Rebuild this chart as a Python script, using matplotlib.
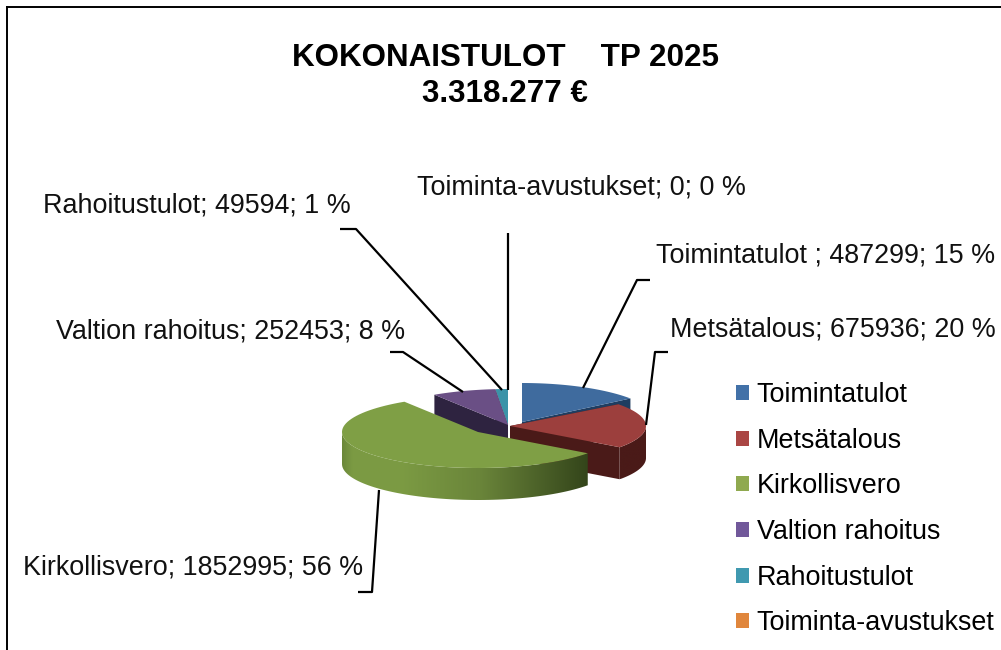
import numpy as np
import matplotlib
matplotlib.use('Agg')
import matplotlib.pyplot as plt
from matplotlib.patches import Patch, Polygon
from matplotlib.colors import to_rgb

plt.rcParams['font.family'] = ['Liberation Sans', 'DejaVu Sans']

# Data
names = ['Toimintatulot', 'Metsätalous', 'Kirkollisvero', 'Valtion rahoitus',
         'Rahoitustulot', 'Toiminta-avustukset']
label_names = ['Toimintatulot ', 'Metsätalous', 'Kirkollisvero', 'Valtion rahoitus',
               'Rahoitustulot', 'Toiminta-avustukset']
values = [487299, 675936, 1852995, 252453, 49594, 0]

# Styles, one per slice
top_colors = ['#3f6b9e', '#9c3f3d', '#7f9f45', '#6a4f85', '#3b93a8', '#e08a3c']
legend_colors = ['#4271a8', '#aa4644', '#8fa94f', '#71589a', '#4099b0', '#e0863c']
side_colors = ['#1f3d60', '#4a1a18', '#33441a', '#2e2340', '#1f5060', '#804a1a']
centers = [(522, 422), (510, 426), (478, 432), (508, 425), (508, 425), (508, 425)]
radii = [(136, 39), (136, 36), (136, 36), (136, 36), (136, 36), (136, 36)]
depth = 32

label_pos = [(656, 256), (670, 330), (23, 568), (56, 331), (43, 205), (417, 188)]
leaders = [[(583, 388), (637, 280), (650, 280)],
           [(646, 425), (655, 352), (668, 352)],
           [(379, 490), (372, 592), (358, 592)],
           [(463, 392), (403, 352), (390, 352)],
           [(502, 390), (356, 229), (340, 229)],
           [(508, 390), (508, 233)]]

total = sum(values)
edges = np.cumsum([0] + values) / total * 2 * np.pi


def arc(i, a, b, n=80):
    t = np.linspace(a, b, n)
    cx, cy = centers[i]
    rx, ry = radii[i]
    return cx + rx * np.sin(t), cy - ry * np.cos(t)


fig = plt.figure(figsize=(10.01, 6.5), dpi=100)
ax = fig.add_axes([0, 0, 1, 1])
ax.set_xlim(0, 1001)
ax.set_ylim(650, 0)
ax.axis('off')


def cut_face(i, angle, z):
    x, y = arc(i, angle, angle, 2)
    cx, cy = centers[i]
    ax.add_patch(Polygon([(cx, cy), (x[0], y[0]), (x[0], y[0] + depth), (cx, cy + depth)],
                         fc=side_colors[i], ec='none', zorder=z))


def top_face(i, z):
    x, y = arc(i, edges[i], edges[i + 1])
    cx, cy = centers[i]
    pts = [(cx, cy)] + list(zip(x, y))
    ax.add_patch(Polygon(pts, fc=top_colors[i], ec='none', zorder=z))


def wall(i, a, b, stops, shades, z):
    # outer wall: a horizontal shade, clipped to the shape of the wall
    x, y = arc(i, a, b)
    pts = list(zip(x, y)) + list(zip(x[::-1], y[::-1] + depth))
    clip = Polygon(pts, fc='none', ec='none', transform=ax.transData)
    ax.add_patch(clip)
    x0, x1 = x.min(), x.max()
    xs = np.linspace(x0, x1, 256)
    rgb = np.array([to_rgb(c) for c in shades])
    row = np.stack([np.interp(xs, stops, rgb[:, k]) for k in range(3)], axis=1)
    im = ax.imshow(row[np.newaxis, :, :], extent=(x0, x1, y.max() + depth, y.min()),
                   aspect='auto', zorder=z, interpolation='bilinear')
    im.set_clip_path(clip)
    ax.set_xlim(0, 1001)
    ax.set_ylim(650, 0)


# Toimintatulot, at the back
cut_face(0, edges[1], 1)
top_face(0, 2)
# Rahoitustulot and Valtion rahoitus
top_face(4, 2)
cut_face(3, edges[3], 2)
cut_face(3, edges[4], 2)
top_face(3, 3)
# Metsätalous
cut_face(1, edges[1], 3)
wall(1, 0.5 * np.pi, edges[2], [610, 646], ['#4a1a18', '#4a1a18'], 4)
cut_face(1, edges[2], 4)
top_face(1, 5)
# Kirkollisvero, in front
wall(2, edges[2], 1.5 * np.pi, [342, 352, 400, 480, 589],
     ['#6b8839', '#7b9a43', '#7c9b43', '#6a853a', '#33441a'], 6)
top_face(2, 7)

# Leader lines
for line in leaders:
    xs, ys = zip(*line)
    ax.plot(xs, ys, color='black', lw=1.6, solid_capstyle='butt', zorder=8)

# Data labels
for i in range(len(values)):
    pct = round(values[i] / total * 100)
    ax.text(label_pos[i][0], label_pos[i][1], f'{label_names[i]}; {values[i]}; {pct} %',
            fontsize=19.4, va='center', ha='left', color='#111111', zorder=9)

# Title
ax.text(505, 58, 'KOKONAISTULOT    TP 2025', fontsize=22.6, fontweight='bold', ha='center', va='center')
total_text = f'{total:,}'.replace(',', '.')
ax.text(505, 94, f'{total_text} €', fontsize=22.6, fontweight='bold', ha='center', va='center')

# Legend
handles = [Patch(fc=c, ec='none') for c in legend_colors]
ax.legend(handles, names, loc='upper left', bbox_to_anchor=(736 / 1001, 1 - 382 / 650),
          frameon=False, fontsize=19.4, labelspacing=0.73, handlelength=0.47, handleheight=0.47,
          handletextpad=0.3, borderpad=0, borderaxespad=0)

# Frame around the picture
ax.plot([6.5, 6.5], [650, 7], color='black', lw=1.4, zorder=10)
ax.plot([6.5, 1001], [7, 7], color='black', lw=1.4, zorder=10)

fig.savefig('out.png', dpi=100)
